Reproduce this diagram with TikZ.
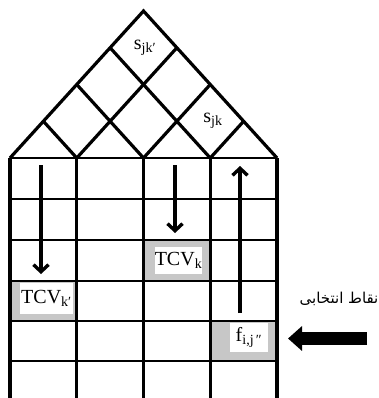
\documentclass[tikz,border=0pt]{standalone}
\usepackage{fontspec}
\setmainfont{Liberation Serif}
\newfontfamily\arabicfont[Script=Arabic]{DejaVu Sans}
\TeXXeTstate=1
\usetikzlibrary{arrows.meta,calc}
\begin{document}
\begin{tikzpicture}[x=1pt,y=-1pt,
  thickline/.style={line width=3.2pt,line join=miter},
  thinline/.style={line width=1.3pt},
  graycell/.style={fill=black!22,draw=none},
  whitebox/.style={fill=white,draw=none,inner sep=0pt,font=\fontsize{20}{22}\selectfont},
  lbl/.style={inner sep=0pt,font=\fontsize{20}{22}\selectfont},
  colarrow/.style={line width=3.4pt,-{Straight Barb[length=7pt,width=15pt,line width=3.4pt]}},
  bigarrow/.style={line width=13pt,-{Triangle[length=14pt,width=24pt]}}]
\useasboundingbox (0,0) rectangle (378,398);
\begin{scope}
\clip (0,0) rectangle (378,398);
\coordinate (L) at (10,158);
\coordinate (R) at (277,158);
\coordinate (A) at (143.5,11);
\coordinate (b1) at (76.75,158);
\coordinate (b2) at (143.5,158);
\coordinate (b3) at (210.25,158);
% grey cells
\fill[graycell] (11,281) rectangle (76,321);
\fill[graycell] (145,240) rectangle (209,281);
\fill[graycell] (211,321) rectangle (276,361);
% horizontal lines
\foreach \yy in {158,199,240,281,321,361}
  \draw[thinline] (10,\yy) -- (277,\yy);
% vertical lines
\foreach \xx in {10,76.75,143.5,210.25,277}
  \draw[thickline] (\xx,158) -- (\xx,402);
% roof
\draw[thickline] (L) -- (A) -- (R);
\draw[thickline] ($(L)!0.25!(A)$) -- (b1);
\draw[thickline] ($(L)!0.5!(A)$) -- (b2);
\draw[thickline] ($(L)!0.75!(A)$) -- (b3);
\draw[thickline] ($(R)!0.25!(A)$) -- (b3);
\draw[thickline] ($(R)!0.5!(A)$) -- (b2);
\draw[thickline] ($(R)!0.75!(A)$) -- (b1);
\end{scope}
% labels in roof
\node[lbl] (sjkp) at (145,48) {s\textsubscript{jk′}};
\node[lbl] (sjk) at (213,121) {s\textsubscript{jk}};
% white boxes with labels
\node[whitebox,minimum width=53pt,minimum height=31pt] (tcvkp) at (46.5,298.5) {TCV\textsubscript{k′}};
\node[whitebox,minimum width=47pt,minimum height=27pt] (tcvk) at (178.5,260.5) {TCV\textsubscript{k}};
\node[whitebox,minimum width=38pt,minimum height=29pt] (fij) at (249,337.5) {f\textsubscript{i,j\,″}};
% column arrows
\coordinate (a1s) at (41,165);
\coordinate (a1e) at (41,274);
\coordinate (a3s) at (175,165);
\coordinate (a3e) at (175,233);
\coordinate (a4s) at (240,313);
\coordinate (a4e) at (240,166);
\draw[colarrow] (a1s) -- (a1e);
\draw[colarrow] (a3s) -- (a3e);
\draw[colarrow] (a4s) -- (a4e);
% Persian label and big arrow
\node[inner sep=0pt,font=\arabicfont\fontsize{15}{17}\selectfont] (nsel) at (339,299) {\beginR نقاط انتخابی\endR};
\coordinate (bas) at (367,338.5);
\coordinate (bae) at (288,338.5);
\draw[bigarrow] (bas) -- (bae);
\end{tikzpicture}
\end{document}
